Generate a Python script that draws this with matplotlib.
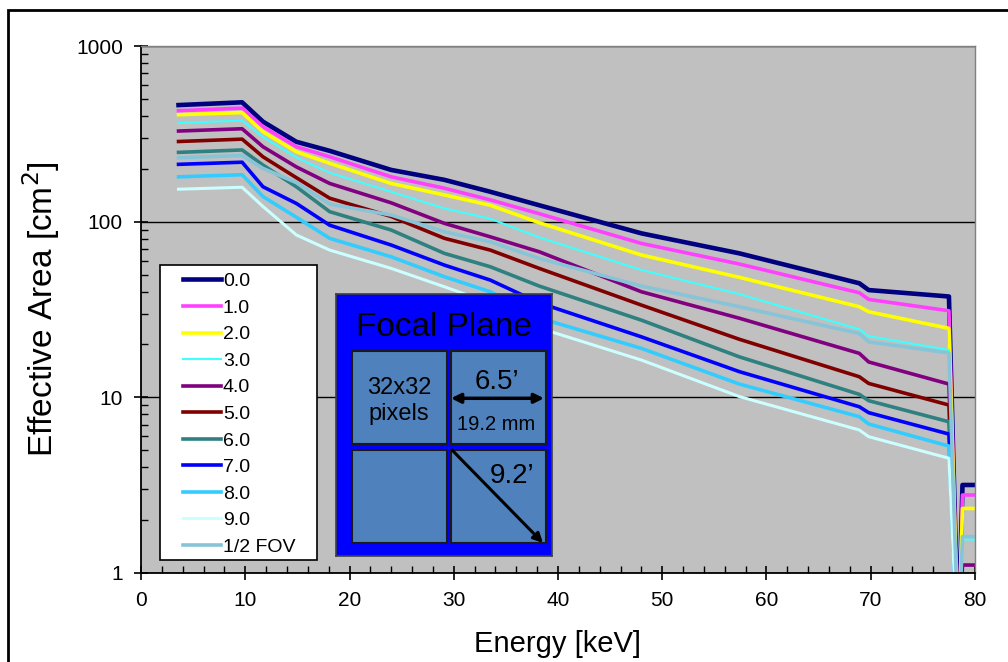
import matplotlib
matplotlib.use("Agg")
import matplotlib.pyplot as plt
from matplotlib.patches import Rectangle
import numpy as np

plt.rcParams['font.family'] = ['Liberation Sans', 'DejaVu Sans']

# energy grid [keV] and effective area [cm^2]
energy = [3.6, 9.7, 11.7, 14.9, 18.1, 24.0, 29.1, 33.5, 38.2, 48.0, 57.4,
          68.9, 69.8, 77.5, 78.4, 78.8, 80.0]

area_00 = [461, 478, 371, 285, 253, 197, 173, 148, 124, 85.8, 66.0, 44.6, 40.8, 37.5, 0.4, 3.17, 3.17]
area_10 = [428, 443, 347, 267, 234, 180, 155, 133, 111, 75.2, 57.4, 39.4, 36.1, 31.1, 0.4, 2.78, 2.78]
area_20 = [406, 418, 325, 250, 215, 165, 142, 124, 98.6, 64.6, 48.2, 32.8, 30.7, 24.7, 0.4, 2.33, 2.33]
area_30 = [365, 376, 304, 232, 190, 148, 119, 104, 81.4, 53.1, 38.7, 24.4, 22.3, 18.6, 0.4, 1.55, 1.55]
area_40 = [328, 338, 267, 205, 165, 128, 97.8, 82.0, 67.4, 39.9, 28.2, 17.8, 15.9, 11.9, 0.3, 1.11, 1.11]
area_50 = [286, 295, 234, 178, 136, 107, 80.4, 68.9, 54.2, 33.5, 21.4, 13.1, 12.0, 9.04, 0.3, 0.9, 0.9]
area_60 = [248, 256, 210, 158, 114, 89.6, 66.0, 55.4, 43.0, 27.5, 17.0, 10.4, 9.57, 7.26, 0.3, 0.8, 0.8]
area_70 = [212, 218, 158, 127, 95.5, 73.6, 56.6, 46.5, 34.5, 22.1, 14.0, 8.84, 8.18, 6.18, 0.3, 0.7, 0.7]
area_80 = [180, 185, 139, 106, 80.4, 63.1, 48.6, 39.9, 28.3, 19.0, 11.9, 7.76, 7.05, 5.28, 0.3, 0.6, 0.6]
area_90 = [153, 157, 122, 84, 68.9, 54.2, 42.6, 34.4, 24.8, 16.3, 10.1, 6.52, 5.97, 4.5, 0.3, 0.5, 0.5]
area_half = [231, 238, 201, 167, 126, 109, 87.6, 76.8, 61.8, 43.0, 32.8, 23.1, 20.7, 17.9, 0.4, 1.61, 1.61]

labels = ["0.0", "1.0", "2.0", "3.0", "4.0", "5.0", "6.0", "7.0", "8.0", "9.0", "1/2 FOV"]
series = [area_00, area_10, area_20, area_30, area_40, area_50, area_60,
          area_70, area_80, area_90, area_half]
colors = ['#000080', '#FF40FF', '#FFFF00', '#40FFFF', '#800080', '#800000',
          '#2F8080', '#0000FF', '#33CCFF', '#CCFFFF', '#88C4D8']
widths = [3.3, 2.6, 2.6, 1.5, 2.6, 2.6, 2.6, 2.6, 2.6, 2.2, 2.6]

fig = plt.figure(figsize=(10.08, 6.62), dpi=100)
ax = fig.add_axes([141/1008, 89/662, 834/1008, 527/662])
ax.set_facecolor('#C0C0C0')

for vals, c, lw, lab in zip(series, colors, widths, labels):
    ax.plot(energy, vals, color=c, lw=lw, label=lab, solid_joinstyle='round')

ax.set_yscale('log')
ax.set_xlim(0, 80)
ax.set_ylim(1, 1000)
ax.set_xticks(np.arange(0, 81, 10))
ax.set_xticks(np.arange(0, 81, 2), minor=True)
ax.set_yticks([1, 10, 100, 1000])
ax.set_yticklabels(["1", "10", "100", "1000"])
ax.tick_params(axis='both', which='major', direction='inout', length=10, width=1.2,
               labelsize=15, pad=8)
ax.tick_params(axis='both', which='minor', direction='in', length=5, width=1.0)
ax.grid(True, which='major', axis='y', color='black', lw=1.0)
ax.set_axisbelow(True)
for s in ['left', 'bottom']:
    ax.spines[s].set_color('black')
    ax.spines[s].set_linewidth(1.3)
for s in ['top', 'right']:
    ax.spines[s].set_color('#808080')
    ax.spines[s].set_linewidth(1.0)

ax.set_xlabel("Energy [keV]", fontsize=21, labelpad=14)
ax.set_ylabel("Effective Area [cm$^2$]", fontsize=24, labelpad=10)

# legend box drawn separately so the handles can sit inset like the original
ax.add_patch(Rectangle((0.0228, 0.0247), 0.188, 0.5593, transform=ax.transAxes,
                       facecolor='white', edgecolor='black', lw=1.2, zorder=4))
leg = ax.legend(loc='upper left', bbox_to_anchor=(0.0503, 0.570),
                borderaxespad=0, borderpad=0, frameon=False, fontsize=14,
                handlelength=1.95, handletextpad=0.1, labelspacing=0.46)
leg.set_zorder(5)

# focal plane inset
ins = fig.add_axes([336/1008, 106/662, 216/1008, 262/662])
ins.set_xlim(0, 216)
ins.set_ylim(262, 0)
ins.set_facecolor('#0000FF')
ins.set_xticks([])
ins.set_yticks([])
for s in ins.spines.values():
    s.set_color('#404040')
    s.set_linewidth(1.2)
for (x0, y0) in [(15.7, 57), (114.7, 57), (15.7, 156), (114.7, 156)]:
    ins.add_patch(Rectangle((x0, y0), 95, 93.3, facecolor='#4F81BD',
                            edgecolor='#1a1a1a', lw=1.5))
ins.text(108, 33, "Focal Plane", ha='center', va='center', fontsize=24)
ins.text(63, 107, "32x32\npixels", ha='center', va='center', fontsize=17,
         linespacing=1.2)
ins.text(161, 88, "6.5\u2019", ha='center', va='center', fontsize=20)
ins.text(160, 131, "19.2 mm", ha='center', va='center', fontsize=14.5)
ins.text(176, 182, "9.2\u2019", ha='center', va='center', fontsize=20)
ins.annotate("", xy=(208, 104.3), xytext=(115, 104.3),
             arrowprops=dict(arrowstyle='<|-|>', color='black', lw=2.5,
                             mutation_scale=14, shrinkA=0, shrinkB=0))
ins.annotate("", xy=(207, 249), xytext=(116, 156),
             arrowprops=dict(arrowstyle='-|>', color='black', lw=2.2,
                             mutation_scale=14, shrinkA=0, shrinkB=0))

# outer chart frame
fig.patches.append(Rectangle((8/1008, -0.1), 1.2, 0.1 + 652/662, transform=fig.transFigure,
                             fill=False, edgecolor='black', lw=2))

fig.savefig("out.png", dpi=100, facecolor='white')
